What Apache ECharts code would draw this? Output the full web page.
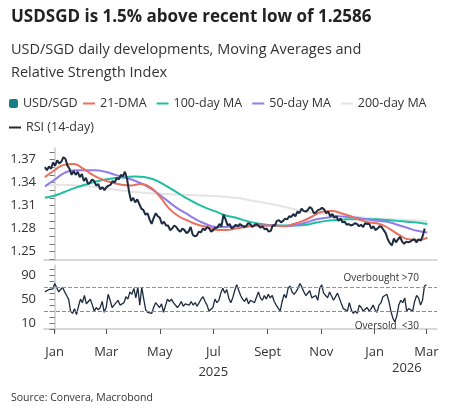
<!DOCTYPE html>
<html><head><meta charset="utf-8">
<script src="https://cdn.jsdelivr.net/npm/echarts@6/dist/echarts.min.js"></script>
<style>html,body{margin:0;padding:0;background:#fff}#c{width:455px;height:416px}</style>
</head><body><div id="c"></div>
<script>
// x values: days since 2025-01-01
const monthTicks = [0, 59, 120, 181, 243, 304, 365, 424];
const monthLabels = ['Jan','Mar','May','Jul','Sept','Nov','Jan','Mar'];
const priceStart = -11, priceEnd = 422;
const priceVals = [1.360,1.356,1.361,1.358,1.366,1.362,1.369,1.365,1.367,1.373,1.371,1.362,1.358,1.350,1.355,1.350,1.354,1.347,1.351,1.342,1.346,1.338,1.340,1.344,1.342,1.336,1.338,1.331,1.334,1.330,1.334,1.336,1.337,1.342,1.340,1.346,1.344,1.350,1.348,1.354,1.345,1.328,1.316,1.320,1.314,1.318,1.312,1.306,1.304,1.298,1.300,1.292,1.286,1.294,1.300,1.296,1.294,1.286,1.289,1.284,1.284,1.278,1.280,1.284,1.282,1.278,1.276,1.280,1.278,1.274,1.276,1.282,1.272,1.270,1.271,1.276,1.275,1.280,1.278,1.282,1.280,1.276,1.278,1.281,1.281,1.286,1.283,1.298,1.292,1.284,1.286,1.280,1.282,1.285,1.283,1.286,1.284,1.282,1.283,1.287,1.286,1.282,1.284,1.286,1.284,1.281,1.283,1.279,1.280,1.276,1.277,1.284,1.284,1.290,1.291,1.288,1.290,1.293,1.292,1.296,1.295,1.299,1.296,1.302,1.300,1.306,1.303,1.302,1.304,1.308,1.306,1.300,1.301,1.304,1.305,1.307,1.305,1.300,1.302,1.296,1.299,1.294,1.296,1.290,1.293,1.288,1.289,1.285,1.286,1.284,1.285,1.287,1.286,1.283,1.285,1.282,1.287,1.286,1.286,1.280,1.283,1.278,1.280,1.283,1.282,1.278,1.274,1.266,1.261,1.258,1.267,1.262,1.266,1.269,1.263,1.260,1.263,1.262,1.263,1.265,1.266,1.262,1.266,1.264,1.270,1.280];
const dma21Vals = [1.347,1.356,1.363,1.364,1.358,1.350,1.344,1.340,1.337,1.336,1.338,1.334,1.322,1.306,1.296,1.290,1.285,1.282,1.278,1.278,1.280,1.282,1.284,1.284,1.284,1.283,1.286,1.290,1.296,1.302,1.303,1.300,1.296,1.291,1.288,1.286,1.280,1.272,1.266,1.265,1.268];
const ma50Vals = [1.335,1.344,1.353,1.356,1.356,1.356,1.354,1.350,1.346,1.342,1.336,1.328,1.318,1.308,1.300,1.292,1.286,1.282,1.282,1.283,1.283,1.284,1.284,1.284,1.283,1.285,1.288,1.292,1.294,1.296,1.295,1.294,1.292,1.290,1.289,1.285,1.281,1.277,1.275];
const ma100Vals = [1.320,1.323,1.328,1.333,1.337,1.341,1.344,1.346,1.347,1.348,1.347,1.343,1.336,1.328,1.320,1.313,1.307,1.302,1.297,1.294,1.290,1.287,1.285,1.284,1.284,1.284,1.285,1.288,1.290,1.291,1.292,1.292,1.292,1.292,1.291,1.290,1.289,1.288,1.286];
const ma200Vals = [1.336,1.337,1.336,1.334,1.331,1.328,1.326,1.325,1.324,1.323,1.322,1.320,1.316,1.312,1.307,1.302,1.299,1.297,1.295,1.293,1.292,1.291,1.290];
const rsiVals = [62,65,66,65,67,76,78,62,66,70,62,56,50,30,26,34,24,38,50,44,56,42,46,50,40,30,36,32,36,46,28,36,58,48,36,40,38,48,40,38,44,54,50,62,58,68,52,70,40,70,50,32,28,30,26,36,44,40,36,42,28,30,50,46,50,44,42,36,40,46,38,42,44,40,46,40,44,38,36,50,54,46,40,30,32,36,50,44,48,60,68,60,66,52,44,52,64,74,72,56,50,46,52,42,48,50,44,46,62,52,48,56,50,58,52,56,46,40,40,30,46,58,52,68,72,62,58,62,68,76,70,62,56,58,64,52,54,56,48,68,74,60,56,52,62,64,48,46,60,58,42,34,32,30,44,32,26,30,26,40,36,30,28,36,30,34,40,32,28,40,44,54,56,58,46,30,18,12,22,40,48,44,52,30,34,32,30,46,56,52,40,48,72,74];
const rsiStart = -11, rsiEnd = 424;

function series(vals, a, b){ const s=(b-a)/(vals.length-1); return vals.map((v,i)=>[a+i*s, v]); }
const C = {price:'#1d2b3e', d21:'#e8705f', m100:'#1fc0a0', m50:'#927ce9', m200:'#e4e4e4'};
const font = 'Open Sans';
const chart = echarts.init(document.getElementById('c'));
const xBase = (gi, show) => ({type:'value', gridIndex:gi, min:-12, max:436,
  axisLine:{show:true, lineStyle:{color:'#ccc', width:1.5}},
  axisTick:{show:show, customValues:monthTicks, length:5, lineStyle:{color:'#555'}},
  axisLabel:{show:show, customValues:monthTicks, color:'#333', fontSize:13, fontFamily:font, margin:10,
    formatter:v=>{const i=monthTicks.indexOf(v); return i<0?'':(i===3?monthLabels[i]+'\n2025':monthLabels[i]);}, lineHeight:20},
  splitLine:{show:false}});
const lg = {itemGap:10, itemWidth:12, itemHeight:2, textStyle:{fontSize:12.5, color:'#333', fontFamily:font}};
chart.setOption({
  animation:false,
  textStyle:{fontFamily:font},
  title:[{text:'USDSGD is 1.5% above recent low of 1.2586', left:6, top:4, textStyle:{fontSize:17, fontWeight:'bold', color:'#222', fontFamily:font}},
    {text:'USD/SGD daily developments, Moving Averages and\nRelative Strength Index', left:6, top:33, textStyle:{fontSize:14.5, fontWeight:'normal', color:'#333', lineHeight:23, fontFamily:font}},
    {text:'Source: Convera, Macrobond', left:6, top:388, textStyle:{fontSize:10.5, fontWeight:'normal', color:'#333', fontFamily:font}}],
  legend:[Object.assign({}, lg, {left:4, top:92, itemWidth:9, itemHeight:9, data:[{name:'USD/SGD', icon:'roundRect', itemStyle:{color:'#167f86'}}]}),
    Object.assign({}, lg, {left:78, top:92, data:[{name:'21-DMA', icon:'rect'},{name:'100-day MA', icon:'rect'},{name:'50-day MA', icon:'rect'},{name:'200-day MA', icon:'rect'}]}),
    Object.assign({}, lg, {left:4, top:116, data:[{name:'RSI (14-day)', icon:'rect'}]})],
  grid:[{left:44, right:18, top:148, height:112},{left:44, right:18, top:265, height:67}],
  xAxis:[xBase(0,false), xBase(1,true)],
  yAxis:[{type:'value', gridIndex:0, min:1.239, max:1.385,
      axisLine:{show:true, lineStyle:{color:'#ccc', width:1.5}},
      axisTick:{show:true, customValues:[1.24,1.25,1.26,1.27,1.28,1.29,1.30,1.31,1.32,1.33,1.34,1.35,1.36,1.37,1.38], length:5, lineStyle:{color:'#777'}},
      axisLabel:{customValues:[1.25,1.28,1.31,1.34,1.37], formatter:v=>v.toFixed(2), color:'#333', fontSize:13, fontFamily:font},
      splitLine:{show:false}},
    {type:'value', gridIndex:1, min:-5, max:107,
      axisLine:{show:true, lineStyle:{color:'#ccc', width:1.5}},
      axisTick:{show:true, customValues:[0,10,20,30,40,50,60,70,80,90,100], length:5, lineStyle:{color:'#777'}},
      axisLabel:{customValues:[10,50,90], color:'#333', fontSize:13, fontFamily:font},
      splitLine:{show:false}}],
  series:[
    {name:'200-day MA', type:'line', data:series(ma200Vals,-11,425), smooth:true, showSymbol:false, color:C.m200, lineStyle:{width:2}},
    {name:'100-day MA', type:'line', data:series(ma100Vals,-11,425), smooth:true, showSymbol:false, color:C.m100, lineStyle:{width:2}},
    {name:'50-day MA', type:'line', data:series(ma50Vals,-11,425), smooth:true, showSymbol:false, color:C.m50, lineStyle:{width:2}},
    {name:'21-DMA', type:'line', data:series(dma21Vals,-11,425), smooth:true, showSymbol:false, color:C.d21, lineStyle:{width:2}},
    {name:'USD/SGD', type:'line', data:series(priceVals,priceStart,priceEnd), showSymbol:false, color:C.price, lineStyle:{width:2}},
    {name:'ob', type:'line', xAxisIndex:1, yAxisIndex:1, data:[], markLine:{silent:true, symbol:'none', lineStyle:{color:'#e8705f', type:'dashed', width:1},
       data:[{yAxis:70, label:{formatter:'Overbought >70', position:'insideEndTop', color:'#333', fontSize:10, distance:[18,4]}}]}},
    {name:'os', type:'line', xAxisIndex:1, yAxisIndex:1, data:[], markLine:{silent:true, symbol:'none', lineStyle:{color:'#1fc0a0', type:'dashed', width:1},
       data:[{yAxis:30, label:{formatter:'Oversold  <30', position:'insideEndBottom', color:'#333', fontSize:10, distance:[18,10]}}]}},
    {name:'RSI (14-day)', type:'line', xAxisIndex:1, yAxisIndex:1, data:series(rsiVals,rsiStart,rsiEnd), showSymbol:false, color:C.price, lineStyle:{width:1.3}}
  ],
  graphic:[{type:'text', left:392, top:362, style:{text:'2026', fill:'#333', font:'13px "Open Sans"'}}]
});
</script></body></html>
